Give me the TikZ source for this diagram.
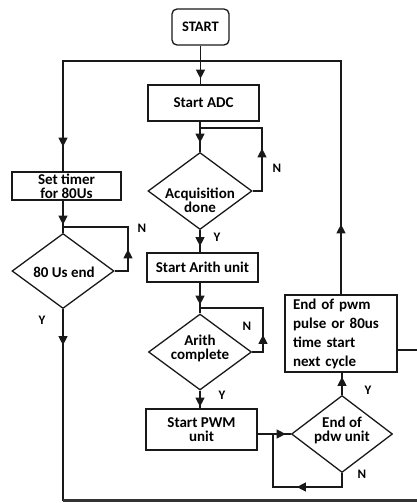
\documentclass[tikz,border=0pt]{standalone}
\usepackage{fontspec}
\setmainfont{Carlito}
\usetikzlibrary{shapes.geometric,arrows.meta,decorations.markings}
\tikzset{
  ln/.style={line width=1.3pt, draw=black!90},
  box/.style={draw=black!90, line width=1.3pt, rectangle, inner sep=0pt, align=center,
              font=\fontsize{15}{14}\selectfont\bfseries},
  dia/.style={draw=black!90, line width=1.3pt, diamond, inner sep=0pt},
  txt/.style={font=\fontsize{15}{14}\selectfont\bfseries, align=center, inner sep=0pt},
  yn/.style={font=\fontsize{13}{13}\selectfont\bfseries, inner sep=0pt},
  tipat/.style={postaction={decorate, decoration={markings,
      mark=at position #1 with {\arrow{Triangle[width=9pt,length=9pt]}}}}},
}
\begin{document}
\begin{tikzpicture}[x=1pt,y=-1pt]
\useasboundingbox (0,0) rectangle (417,503);

% nodes
\node[box, minimum width=57pt, minimum height=36pt, rounded corners=5pt,
      font=\fontsize{14.5}{14}\selectfont\bfseries] (start) at (200.5,27) {START};
\node[box, minimum width=111pt, minimum height=36pt] (adc) at (203.5,103) {Start ADC};
\node[dia, minimum width=104pt, minimum height=77pt] (acq) at (200,191) {};
\node[txt] (acqt) at (200,200) {Acquisition\\done};
\node[box, minimum width=111pt, minimum height=29pt] (arb) at (202.5,267.5) {Start Arith unit};
\node[dia, minimum width=103pt, minimum height=76pt] (ariD) at (200,352) {};
\node[txt] (arit) at (200,348) {Arith\\complete};
\node[box, minimum width=111pt, minimum height=41pt] (pwm) at (201.5,429.5) {Start PWM\\unit};
\node[dia, minimum width=101pt, minimum height=77pt] (pdw) at (342,434) {};
\node[txt] (pdwt) at (342,430) {End of\\pdw unit};
\node[box, minimum width=112pt, minimum height=77pt, text width=96pt, align=left,
      font=\fontsize{15}{19}\selectfont\bfseries] (endb) at (341,333.5)
      {End of pwm\\pulse or 80us\\time start\\next cycle};
\node[box, minimum width=109pt, minimum height=28pt] (timer) at (66.5,186) {Set timer\\for 80Us};
\node[dia, minimum width=102pt, minimum height=75pt] (tdia) at (63,271) {};
\node[txt] (tdiat) at (64,272) {80 Us end};

% coordinates
\coordinate (lc) at (63,61);
\coordinate (rc) at (341,61);
\coordinate (acqr) at (262,128);
\coordinate (arir) at (263,308);
\coordinate (pl) at (273,487);
\coordinate (ro) at (417,350);
\coordinate (tr) at (128,227);
\coordinate (bl) at (63,500.5);
\coordinate (br) at (417,500.5);

% connectors
\draw[ln, tipat=33pt] (start.south) -- (start.south |- adc.north);
\draw[ln, tipat=70pt, tipat=597pt] (endb.north) -- (rc) -- (lc) -- (lc |- timer.north);
\draw[ln, tipat=21pt] (adc.south -| acq.north) -- (acq.north);
\draw[ln, tipat=52pt] (acq.east) -| (acqr) -- (acqr -| acq.north);
\draw[ln, tipat=16pt] (acq.south) -- (acq.south |- arb.north);
\draw[ln, tipat=22pt] (arb.south -| ariD.north) -- (ariD.north);
\draw[ln, tipat=28pt] (ariD.east) -| (arir) -- (arir -| ariD.north);
\draw[ln, tipat=16pt] (ariD.south) -- (ariD.south |- pwm.north);
\draw[ln, tipat=28pt] (pwm.east |- pdw.west) -- (pdw.west);
\draw[ln, tipat=59pt] (pdw.south) |- (pl) -- (pl |- pdw.west);
\draw[ln, tipat=18pt] (pdw.north) -- (pdw.north |- endb.south);
\draw[ln] (ro -| endb.east) -- (ro);
\draw[ln, tipat=24pt] (timer.south -| tdia.north) -- (tdia.north);
\draw[ln, tipat=35pt] (tdia.east) -| (tr) -- (tr -| tdia.north);
\draw[ln, tipat=36pt] (tdia.south) -- (bl);
\draw[line width=2.6pt, draw=black!80] (bl) -- (br);

% labels
\node[yn] (n1) at (277,168) {N};
\node[yn] (y1) at (217,237) {Y};
\node[yn] (n2) at (247,326) {N};
\node[yn] (y2) at (222,395) {Y};
\node[yn] (n3) at (142,228) {N};
\node[yn] (y3) at (42,320) {Y};
\node[yn] (y4) at (368,390) {Y};
\node[yn] (n4) at (362,474) {N};
\end{tikzpicture}
\end{document}
